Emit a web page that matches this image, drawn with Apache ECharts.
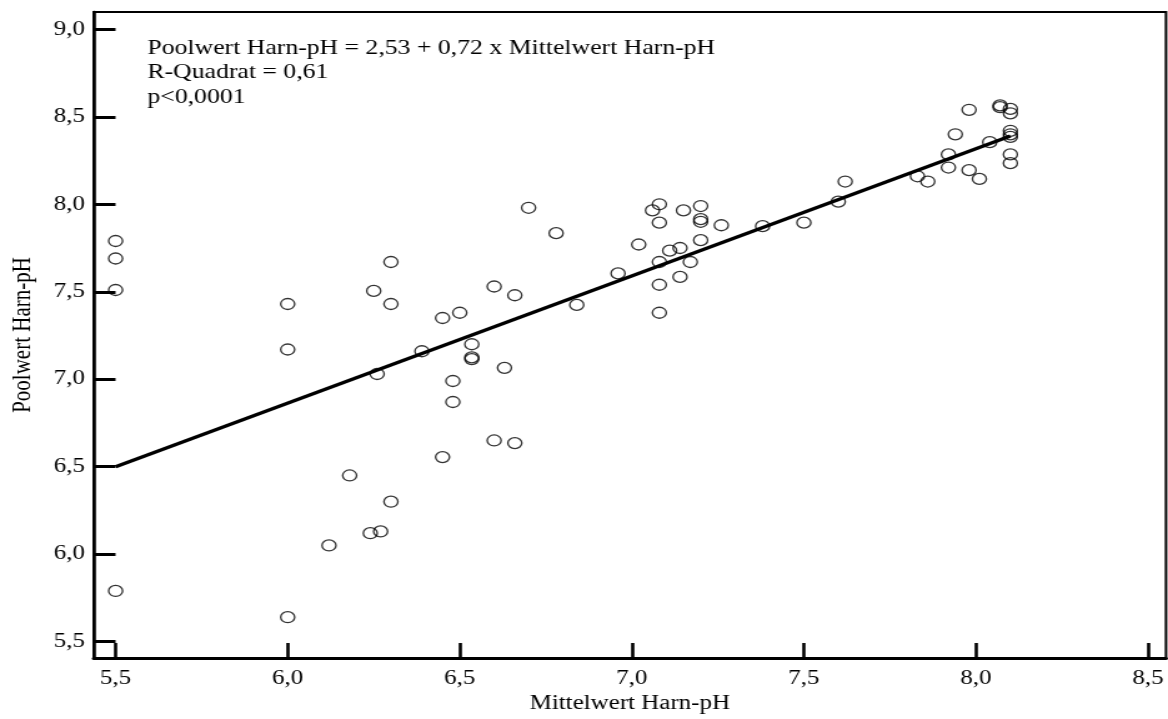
<!DOCTYPE html>
<html>
<head>
<meta charset="utf-8">
<script src="https://cdn.jsdelivr.net/npm/echarts@6/dist/echarts.min.js"></script>
<style>
html,body{margin:0;padding:0;background:#fff;overflow:hidden;}
#chart{width:935px;height:719px;transform:scaleX(1.2492);transform-origin:0 0;}
</style>
</head>
<body>
<div id="chart"></div>
<script>
// Mittelwert Harn-pH (x) and Poolwert Harn-pH (y) of each observation
const mittelwert = [5.5,5.5,5.5,5.5, 6.0,6.0,6.0, 6.12,6.18,6.24,6.27,6.30,
  6.25,6.30,6.30,6.26,6.39,6.45,6.50, 6.535,6.535,6.535,6.48,6.48,
  6.60,6.66,6.63,6.60,6.66,6.45, 6.70,6.78,6.84,6.96,7.02,7.06,
  7.08,7.08,7.08,7.08,7.08, 7.11,7.14,7.14,7.15,7.17,
  7.20,7.20,7.20,7.20,7.26, 7.38,7.50,7.60,7.62,
  7.83,7.86,7.92,7.92,7.94,7.98,7.98,8.01,8.04,
  8.07,8.07,8.10,8.10,8.10,8.10,8.10,8.10,8.10];
const poolwert = [7.79,7.69,7.51,5.79, 7.43,7.17,5.64, 6.05,6.45,6.12,6.13,6.30,
  7.505,7.67,7.43,7.03,7.16,7.35,7.38, 7.20,7.125,7.115,6.99,6.87,
  7.53,7.48,7.065,6.65,6.635,6.555, 7.98,7.835,7.425,7.605,7.77,7.965,
  8.00,7.895,7.67,7.54,7.38, 7.735,7.75,7.585,7.965,7.67,
  7.99,7.915,7.90,7.795,7.88, 7.875,7.895,8.015,8.13,
  8.16,8.13,8.285,8.21,8.40,8.54,8.195,8.145,8.355,
  8.565,8.555,8.545,8.52,8.42,8.40,8.385,8.285,8.235];
// Regression line end points
const regX = [5.5, 8.1];
const regY = [6.50, 8.39];
// Tick values
const xTicks = [5.5, 6.0, 6.5, 7.0, 7.5, 8.0, 8.5];
const yTicks = [5.5, 6.0, 6.5, 7.0, 7.5, 8.0, 8.5, 9.0];
const annotation = [
  'Poolwert Harn-pH = 2,53 + 0,72 x Mittelwert Harn-pH',
  'R-Quadrat = 0,61',
  'p<0,0001'
];
const xName = 'Mittelwert Harn-pH';
const yName = 'Poolwert Harn-pH';

const pts = mittelwert.map((x, i) => [x, poolwert[i]]);
const reg = regX.map((x, i) => [x, regY[i]]);
const fmt = v => Number(v).toFixed(1).replace('.', ',');
const FONT = '"Liberation Serif", "Times New Roman", serif';

const chart = echarts.init(document.getElementById('chart'));
chart.setOption({
  animation: false,
  backgroundColor: '#fff',
  grid: {left: 72, right: 1.6, top: 12, bottom: 61, show: true, borderColor: '#000', borderWidth: 2},
  xAxis: {
    type: 'value', min: 5.4363, max: 8.5522,
    name: xName, nameLocation: 'middle', nameGap: 31,
    nameTextStyle: {fontFamily: FONT, fontSize: 20, color: '#000'},
    axisLine: {show: true, lineStyle: {color: '#000', width: 3}},
    axisTick: {show: true, inside: true, length: 15, customValues: xTicks, lineStyle: {color: '#000', width: 2.6}},
    axisLabel: {customValues: xTicks, formatter: fmt, margin: 11, fontFamily: FONT, fontSize: 20, color: '#000'},
    splitLine: {show: false}
  },
  yAxis: {
    type: 'value', min: 5.4068, max: 9.0989,
    name: yName, nameLocation: 'middle', nameGap: 46, nameRotate: 90,
    nameTextStyle: {fontFamily: FONT, fontSize: 21, color: '#000'},
    axisLine: {show: true, lineStyle: {color: '#000', width: 2.6}},
    axisTick: {show: true, inside: true, length: 17.5, customValues: yTicks, lineStyle: {color: '#000', width: 3}},
    axisLabel: {customValues: yTicks, formatter: fmt, margin: 7, fontFamily: FONT, fontSize: 20, color: '#000'},
    splitLine: {show: false}
  },
  graphic: [{
    type: 'text', left: 118, top: 36,
    style: {text: annotation.join('\n'), font: '20.6px ' + FONT, fill: '#000', lineHeight: 24.5}
  }],
  series: [
    {
      type: 'line', data: reg, symbol: 'none', z: 2,
      lineStyle: {color: '#000', width: 3.5}
    },
    {
      type: 'scatter', data: pts, symbol: 'circle', symbolSize: [11.2, 11], z: 3,
      itemStyle: {color: 'rgba(0,0,0,0)', borderColor: '#000', borderWidth: 1.3},
      emphasis: {disabled: true}
    }
  ]
});
</script>
</body>
</html>
